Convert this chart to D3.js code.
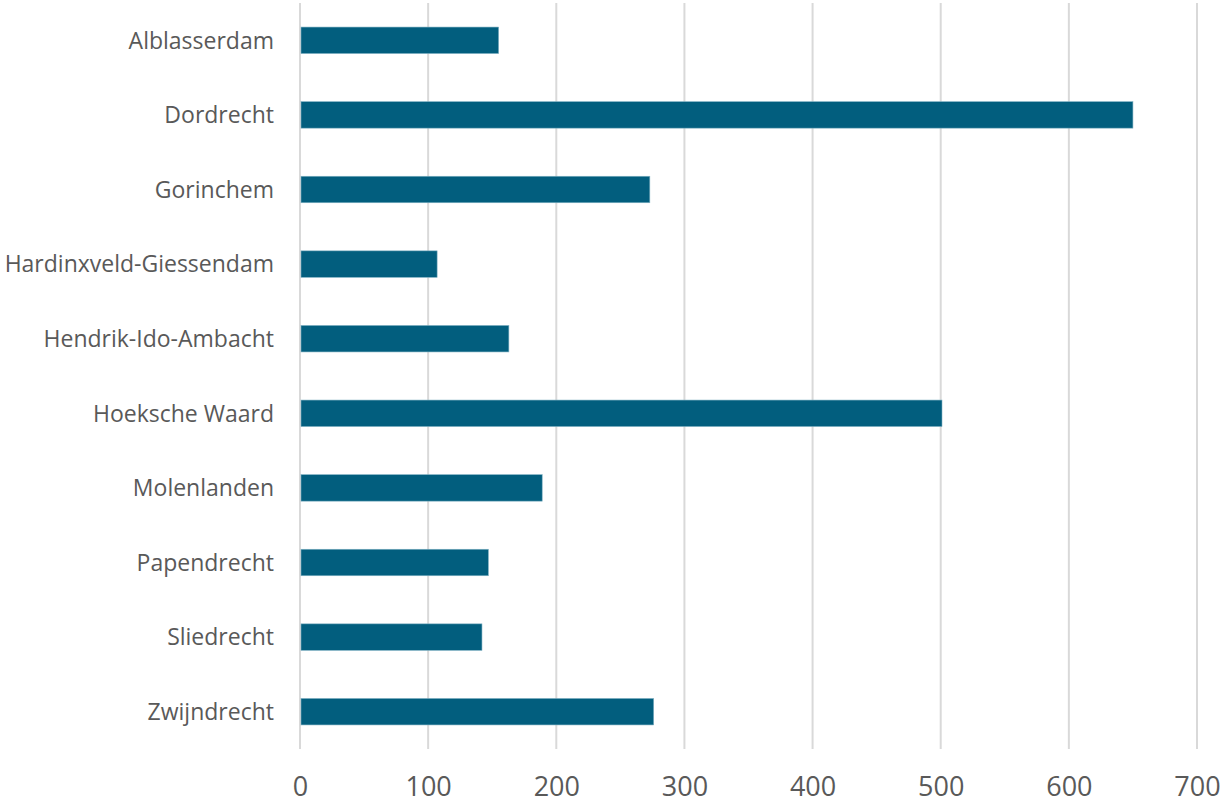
<!DOCTYPE html>
<meta charset="utf-8">
<title>Gemeenten</title>
<html>
<style>
body { margin: 0; background: #fff; }
.tick text { fill: #595959; }
</style>
<body>
<svg width="1221" height="805"></svg>
<script src="https://d3js.org/d3.v7.min.js"></script>
<script>
var gemeenten = ["Alblasserdam", "Dordrecht", "Gorinchem", "Hardinxveld-Giessendam",
  "Hendrik-Ido-Ambacht", "Hoeksche Waard", "Molenlanden", "Papendrecht",
  "Sliedrecht", "Zwijndrecht"];
var waarden = [155, 650, 273, 107, 163, 501, 189, 147, 142, 276];
var xTicks = [0, 100, 200, 300, 400, 500, 600, 700];

var svg = d3.select("svg"),
  margin = {top: 3, right: 24, bottom: 56, left: 300},
  width = +svg.attr("width") - margin.left - margin.right,
  height = +svg.attr("height") - margin.top - margin.bottom,
  g = svg.append("g").attr("transform", "translate(" + margin.left + "," + margin.top + ")");

var x = d3.scaleLinear().domain([0, 700]).range([0, 897]);
var y = d3.scaleBand().domain(gemeenten).range([0, height]).paddingInner(0.645).paddingOuter(0.3225);

// gridlines
g.append("g")
  .selectAll("line")
  .data(xTicks)
  .enter().append("line")
    .attr("x1", function(d) { return x(d); })
    .attr("x2", function(d) { return x(d); })
    .attr("y1", 0)
    .attr("y2", height)
    .attr("stroke", "#d9d9d9")
    .attr("stroke-width", 2);

g.append("g")
  .selectAll("rect")
  .data(waarden)
  .enter().append("rect")
    .attr("x", x(0) + 1)
    .attr("y", function(d, i) { return y(gemeenten[i]); })
    .attr("width", function(d) { return x(d) - x(0) - 1; })
    .attr("height", y.bandwidth())
    .attr("fill", "#025e7e")
    .attr("stroke", "#7fb0c2")
    .attr("stroke-width", 0.6);

var yAxis = g.append("g")
  .call(d3.axisLeft(y).tickSize(0).tickPadding(26));
yAxis.select(".domain").remove();
yAxis.selectAll("text")
  .attr("font-family", "Open Sans")
  .attr("font-size", 23)
  .attr("dy", "0.36em");

var xAxis = g.append("g")
  .attr("transform", "translate(0," + height + ")")
  .call(d3.axisBottom(x).tickValues(xTicks).tickSize(0).tickPadding(28));
xAxis.select(".domain").remove();
xAxis.selectAll("text")
  .attr("font-family", "Open Sans")
  .attr("font-size", 27);
</script>
</body>
</html>
